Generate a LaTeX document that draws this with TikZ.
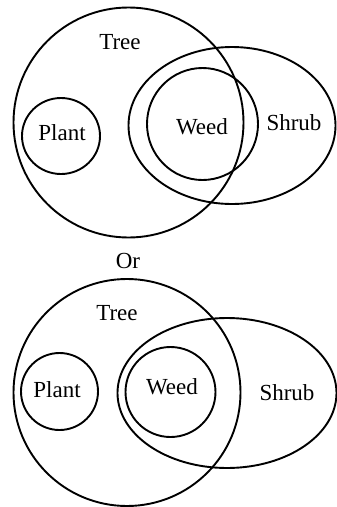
\documentclass[tikz,border=0pt]{standalone}
\usepackage{fontspec}
\setmainfont{Liberation Serif}
\begin{document}
\begin{tikzpicture}[x=1pt,y=-1pt,
  ring/.style={draw=black,line width=1.9pt},
  lbl/.style={font=\fontsize{23}{26}\selectfont,inner sep=0pt}]
\useasboundingbox (0,0) rectangle (337,507);
% top diagram
\draw[ring] (128.5,122.5) circle[radius=115];
\draw[ring] (232,125.5) ellipse[x radius=103.5,y radius=78.5];
\draw[ring] (202.5,124) ellipse[x radius=55.5,y radius=56];
\draw[ring] (61,136) ellipse[x radius=39,y radius=38];
\node[lbl] (tree1) at (120,42) {Tree};
\node[lbl] (plant1) at (62,133) {Plant};
\node[lbl] (weed1) at (202,127) {Weed};
\node[lbl] (shrub1) at (294,123) {Shrub};
\node[lbl] (or) at (128,261) {Or};
% bottom diagram
\draw[ring] (127,392.5) circle[radius=113.5];
\draw[ring] (227,393) ellipse[x radius=109.5,y radius=75];
\draw[ring] (170.5,392) circle[radius=45];
\draw[ring] (59.5,391.5) ellipse[x radius=38.5,y radius=38.5];
\node[lbl] (tree2) at (117,313) {Tree};
\node[lbl] (plant2) at (57,390) {Plant};
\node[lbl] (weed2) at (172,387) {Weed};
\node[lbl] (shrub2) at (287,393) {Shrub};
\end{tikzpicture}
\end{document}
